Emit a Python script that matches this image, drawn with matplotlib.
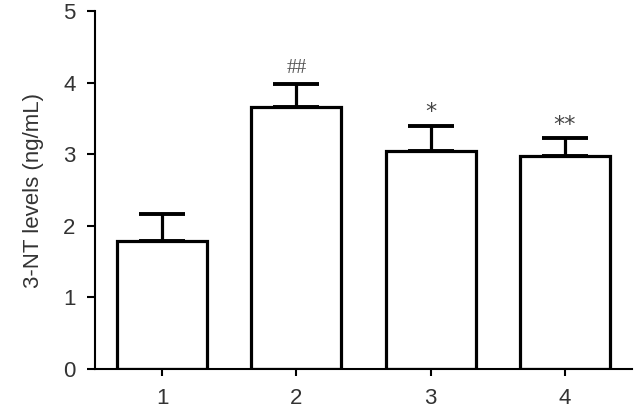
import matplotlib
matplotlib.use("Agg")
import matplotlib.pyplot as plt

groups = ["1", "2", "3", "4"]
means = [1.79, 3.66, 3.04, 2.98]
errors = [0.37, 0.32, 0.36, 0.25]
marks = ["", "##", "*", "**"]
ylabel = "3-NT levels (ng/mL)"

plt.rcParams['font.family'] = ['Liberation Sans', 'DejaVu Sans']

fig = plt.figure(figsize=(6.34, 4.08), dpi=100)
ax = fig.add_axes([95/634, 1-369/408, (632-95)/634, (369-11)/408])

x = list(range(1, len(groups)+1))
ax.bar(x, means, width=0.67, color='white', edgecolor='black', linewidth=2.3, zorder=2)
ax.errorbar(x, means, yerr=[[0]*len(errors), errors], fmt='none', ecolor='black',
            elinewidth=2.3, capsize=16.5, capthick=2.8, zorder=1)

for xi, m, e, s in zip(x, means, errors, marks):
    if not s:
        continue
    if s.startswith('#'):
        ax.text(xi, m + e + 0.15, s, ha='center', va='baseline', fontsize=14.5,
                color='#555555', family=['Liberation Serif'])
    else:
        ax.text(xi, m + e + 0.10, s, ha='center', va='baseline', fontsize=16,
                color='#444444', family=['DejaVu Sans'])

ax.set_xlim(0.5, 4.5)
ax.set_ylim(0, 5)
ax.set_xticks(x)
ax.set_xticklabels(groups)
ax.set_yticks(range(0, 6))
ax.spines['top'].set_visible(False)
ax.spines['right'].set_visible(False)
ax.spines['left'].set_linewidth(1.5)
ax.spines['bottom'].set_linewidth(1.5)
ax.tick_params(axis='y', length=6, width=1.5, labelsize=16, pad=8, colors='black', labelcolor='#333333')
ax.tick_params(axis='x', length=5, width=1.5, labelsize=16, pad=9, colors='black', labelcolor='#333333')
ax.set_ylabel(ylabel, fontsize=16, color='#333333', labelpad=14)

fig.savefig("out.png", dpi=100)
